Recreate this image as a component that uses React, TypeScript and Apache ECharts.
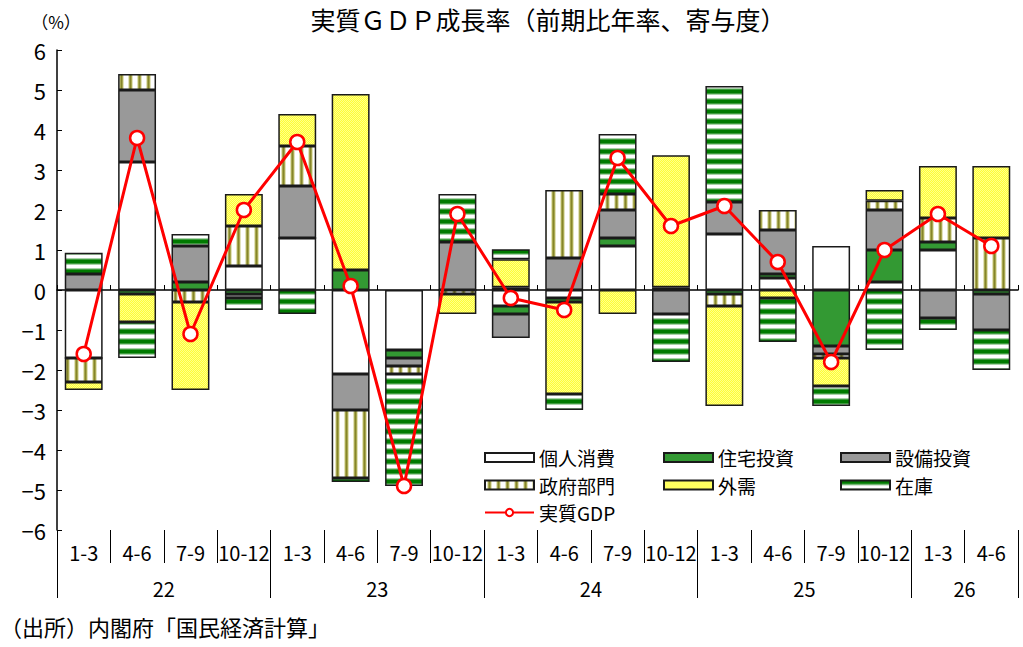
import React, { useEffect, useRef } from 'react';
import * as echarts from 'echarts';

const quarters = ['1-3', '4-6', '7-9', '10-12', '1-3', '4-6', '7-9', '10-12', '1-3', '4-6', '7-9', '10-12', '1-3', '4-6', '7-9', '10-12', '1-3', '4-6'];
const years = ['22', '23', '24', '25', '26'];
const quartersPerYear = [4, 4, 4, 4, 2];

// 寄与度（%ポイント）
const consumption = [-1.7, 3.2, 0, 0.6, 1.3, -2.1, -1.5, 0, -0.4, -0.2, 1.1, 0, 1.4, 0.3, 1.1, 0.2, 1.0, 0];
const housing = [0, -0.1, 0.2, -0.1, 0, 0.5, -0.2, 0, -0.2, -0.1, 0.2, 0.07, -0.1, 0.1, -1.4, 0.8, 0.2, -0.1];
const capex = [0.4, 1.8, 0.9, -0.1, 1.3, -0.9, -0.2, 1.2, -0.6, 0.8, 0.7, -0.6, 0.8, 1.1, -0.2, 1.0, -0.7, -0.9];
const government = [-0.6, 0.4, -0.3, 1.0, 1.0, -1.7, -0.2, -0.1, 0.07, 1.7, 0.4, 0, -0.3, 0.5, -0.1, 0.23, 0.6, 1.3];
const netExports = [-0.2, -0.7, -2.2, 0.8, 0.8, 4.4, 0, -0.5, 0.7, -2.3, -0.6, 3.3, -2.5, -0.2, -0.7, 0.27, 1.3, 1.8];
const inventory = [0.53, -0.9, 0.3, -0.3, -0.6, -0.1, -2.8, 1.2, 0.25, -0.4, 1.5, -1.2, 2.9, -1.1, -0.5, -1.5, -0.3, -1.0];
const realGdp = [-1.6, 3.8, -1.1, 2.0, 3.7, 0.1, -4.9, 1.9, -0.2, -0.5, 3.3, 1.6, 2.1, 0.7, -1.8, 1.0, 1.9, 1.1];

const FONT = '"Noto Sans CJK JP", "Noto Sans", sans-serif';

// 模様（ハッチング）を小さなcanvasで作る
const makePattern = (w: number, h: number, paint: (x: number, y: number) => string) => {
  const c = document.createElement('canvas');
  c.width = w;
  c.height = h;
  const ctx = c.getContext('2d')!;
  for (let y = 0; y < h; y++) {
    for (let x = 0; x < w; x++) {
      ctx.fillStyle = paint(x, y);
      ctx.fillRect(x, y, 1, 1);
    }
  }
  return { image: c.toDataURL(), repeat: 'repeat', imageWidth: w, imageHeight: h };
};

const App: React.FC = () => {
  const chartRef = useRef<HTMLDivElement>(null);

  useEffect(() => {
    if (!chartRef.current) return;
    const chart = echarts.init(chartRef.current, null, { renderer: 'svg' });

    const govCols = ['#ffffff', '#ffffff', '#e2e2bc', '#a8a850', '#85852a', '#a8a850', '#e2e2bc', '#ffffff', '#ffffff'];
    const stockRows = ['#007a00', '#007a00', '#007a00', '#3d9b3d', '#a9d2a9', '#ffffff', '#ffffff', '#ffffff', '#a9d2a9', '#3d9b3d'];
    const govPattern = makePattern(9, 4, (x) => govCols[x]);
    const stockPattern = makePattern(4, 10, (_x, y) => stockRows[y]);
    const extPattern = makePattern(2, 2, (x, y) => ((x + y) % 2 ? '#ffff33' : '#ffff8c'));

    // 年の区切りと中央位置
    const yearBounds = [0];
    quartersPerYear.forEach((n) => yearBounds.push(yearBounds[yearBounds.length - 1] + n));
    const yearCenters = quartersPerYear.map((n, i) => yearBounds[i] + n / 2);

    const bar = (name: string, data: number[], color: any) => ({
      name,
      type: 'bar',
      stack: 'total',
      data,
      barWidth: '71%',
      xAxisIndex: 0,
      yAxisIndex: 0,
      itemStyle: { color, borderColor: '#1a1a1a', borderWidth: 1.5 },
      emphasis: { disabled: true },
    });

    const legendBase = {
      orient: 'vertical',
      top: 448,
      padding: 0,
      itemWidth: 49,
      itemHeight: 9,
      itemGap: 8.5,
      selectedMode: false,
      textStyle: { fontSize: 19, lineHeight: 19, color: '#000', fontFamily: FONT },
    };

    const option = {
      animation: false,
      textStyle: { fontFamily: FONT },
      grid: [
        { left: 57, right: 5, top: 50, bottom: 117, outerBoundsMode: 'none' },
        { left: 57, right: 5, top: 50, bottom: 117, outerBoundsMode: 'none' },
      ],
      legend: [
        { ...legendBase, left: 484, data: [{ name: '個人消費', icon: 'rect' }, { name: '政府部門', icon: 'rect' }, { name: '実質GDP' }] },
        { ...legendBase, left: 663, icon: 'rect', data: ['住宅投資', '外需'] },
        { ...legendBase, left: 840, icon: 'rect', data: ['設備投資', '在庫'] },
      ],
      xAxis: [
        {
          type: 'category',
          gridIndex: 0,
          data: quarters,
          position: 'top',
          axisLine: { onZero: true, lineStyle: { color: '#000', width: 1.5 } },
          axisTick: { show: true, inside: false, length: 5, lineStyle: { color: '#000' } },
          axisLabel: { show: false },
          splitLine: { show: false },
        },
        {
          type: 'category',
          gridIndex: 0,
          data: quarters,
          position: 'bottom',
          axisLine: { show: false, onZero: false },
          axisTick: { show: true, length: 33, lineStyle: { color: '#000', width: 1 } },
          axisLabel: { interval: 0, fontSize: 20, color: '#000', margin: 12, fontFamily: FONT },
          splitLine: { show: false },
        },
        {
          type: 'value',
          gridIndex: 1,
          min: 0,
          max: quarters.length,
          position: 'bottom',
          axisLine: { show: false, onZero: false },
          splitLine: { show: false },
          axisTick: { show: true, customValues: yearBounds, length: 68, lineStyle: { color: '#000', width: 1 } },
          axisLabel: {
            customValues: yearCenters,
            formatter: (v: number) => years[yearCenters.indexOf(v)] ?? '',
            fontSize: 20,
            color: '#000',
            margin: 48,
            fontFamily: FONT,
          },
        },
      ],
      yAxis: [
        {
          type: 'value',
          gridIndex: 0,
          min: -6,
          max: 6,
          interval: 1,
          axisLine: { show: true, onZero: false, lineStyle: { color: '#000', width: 1.5 } },
          axisTick: { show: true, inside: true, length: 5, lineStyle: { color: '#000' } },
          axisLabel: {
            fontSize: 22,
            color: '#000',
            margin: 11,
            fontFamily: FONT,
            formatter: (v: number) => String(v).replace('-', '−'),
          },
          splitLine: { show: false },
        },
        { type: 'value', gridIndex: 1, min: -6, max: 6, show: false },
      ],
      graphic: [
        {
          type: 'text',
          x: 548,
          y: 19,
          style: { text: '実質ＧＤＰ成長率（前期比年率、寄与度）', fontSize: 25, fontFamily: FONT, fill: '#000', textAlign: 'center', textVerticalAlign: 'middle' },
        },
        {
          type: 'text',
          x: 56,
          y: 21,
          style: { text: '（%）', fontSize: 17, fontFamily: FONT, fill: '#000', textAlign: 'center', textVerticalAlign: 'middle' },
        },
        {
          type: 'text',
          x: 0,
          y: 626,
          style: { text: '（出所）内閣府「国民経済計算」', fontSize: 22, fontFamily: FONT, fill: '#000', textAlign: 'left', textVerticalAlign: 'middle' },
        },
      ],
      series: [
        bar('個人消費', consumption, '#ffffff'),
        bar('住宅投資', housing, '#339933'),
        bar('設備投資', capex, '#999999'),
        bar('政府部門', government, govPattern),
        bar('外需', netExports, extPattern),
        bar('在庫', inventory, stockPattern),
        {
          name: '実質GDP',
          type: 'line',
          data: realGdp,
          xAxisIndex: 0,
          yAxisIndex: 0,
          z: 10,
          symbol: 'circle',
          symbolSize: 14,
          lineStyle: { color: '#ff0000', width: 3 },
          itemStyle: { color: '#ffffff', borderColor: '#ff0000', borderWidth: 2.5 },
          emphasis: { disabled: true },
        },
      ],
    };

    chart.setOption(option as any);

    return () => {
      chart.dispose();
    };
  }, []);

  return <div ref={chartRef} style={{ position: 'absolute', left: 0, top: 0, width: 1023, height: 647, background: '#fff' }} />;
};

export default App;
